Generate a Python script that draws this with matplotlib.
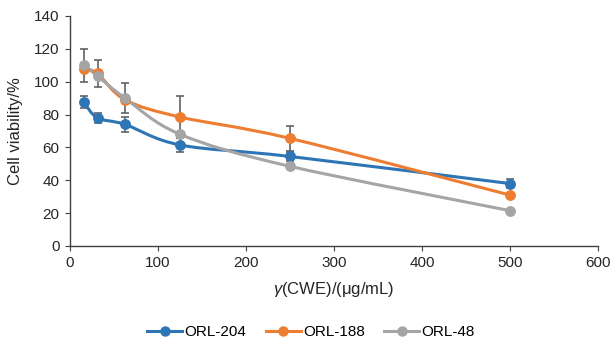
import numpy as np
import matplotlib

matplotlib.use("Agg")
import matplotlib.pyplot as plt
from matplotlib.path import Path
from matplotlib.patches import PathPatch

plt.rcParams["font.family"] = ["Liberation Sans", "DejaVu Sans"]
plt.rcParams["mathtext.fontset"] = "custom"
plt.rcParams["mathtext.rm"] = "Liberation Sans"
plt.rcParams["mathtext.it"] = "Liberation Sans:italic"

conc = [15.625, 31.25, 62.5, 125, 250, 500]
orl204 = [87.5, 78, 74, 61.5, 54.5, 38]
orl188 = [108, 105, 89, 78.5, 65.5, 31]
orl48 = [110, 103.5, 90, 68, 48.5, 21.5]
err204 = [3.5, 3, 4.5, 4, 3, 3]
err188 = [0, 8, 0, 13, 7.5, 0]
err48 = [10, 0, 9, 0, 0, 0]

names = ["ORL-204", "ORL-188", "ORL-48"]
colors = ["#2E75B6", "#ED7D31", "#A5A5A5"]


def smooth_path(x, y, t=1 / 6):
    # Catmull-Rom style Bezier segments, like a spreadsheet "smoothed line"
    x = np.asarray(x, float)
    y = np.asarray(y, float)
    verts = [(x[0], y[0])]
    codes = [Path.MOVETO]
    n = len(x)
    for i in range(n - 1):
        p0 = (x[max(i - 1, 0)], y[max(i - 1, 0)])
        p1 = (x[i], y[i])
        p2 = (x[i + 1], y[i + 1])
        p3 = (x[min(i + 2, n - 1)], y[min(i + 2, n - 1)])
        c1 = (p1[0] + (p2[0] - p0[0]) * t, p1[1] + (p2[1] - p0[1]) * t)
        c2 = (p2[0] - (p3[0] - p1[0]) * t, p2[1] - (p3[1] - p1[1]) * t)
        verts += [c1, c2, p2]
        codes += [Path.CURVE4] * 3
    return Path(verts, codes)


fig = plt.figure(figsize=(6.11, 3.44), dpi=100)
ax = fig.add_axes([0.1146, 0.2849, 0.8641, 0.6686])

for y, e, c, name in zip([orl204, orl188, orl48], [err204, err188, err48], colors, names):
    ax.add_patch(PathPatch(smooth_path(conc, y), fill=False, edgecolor=c, lw=2.2, zorder=2))
    ax.errorbar(conc, y, yerr=e, fmt="none", ecolor="#5f6468", elinewidth=1.2,
                capsize=3, capthick=1.2, zorder=3)
    ax.plot(conc, y, "o", color=c, ms=6.8, zorder=4, label=name)

ax.set_xlim(0, 600)
ax.set_ylim(0, 140)
ax.set_xticks(np.arange(0, 601, 100))
ax.set_yticks(np.arange(0, 141, 20))
for s in ["top", "right"]:
    ax.spines[s].set_visible(False)
for s in ["left", "bottom"]:
    ax.spines[s].set_color("#404040")
    ax.spines[s].set_linewidth(1.0)
ax.tick_params(colors="#404040", labelcolor="#262626", labelsize=11, length=3.5, pad=4)
ax.set_xlabel("$\\gamma$(CWE)/(μg/mL)", fontsize=12, color="#262626", va="center")
ax.xaxis.set_label_coords(0.5, -0.191)
ax.set_ylabel("Cell viability/%", fontsize=12, color="#262626", va="center", ha="center")
ax.yaxis.set_label_coords(-0.104, 0.5)

handles = [plt.Line2D([], [], color=c, marker="o", ms=6.5, lw=2.2) for c in colors]
fig.legend(handles, names, loc="center", bbox_to_anchor=(0.509, 0.035), ncol=3,
           frameon=False, fontsize=11, handlelength=2.3, columnspacing=1.25,
           handletextpad=0.15, borderpad=0.1)

fig.savefig("out.png", dpi=100)
